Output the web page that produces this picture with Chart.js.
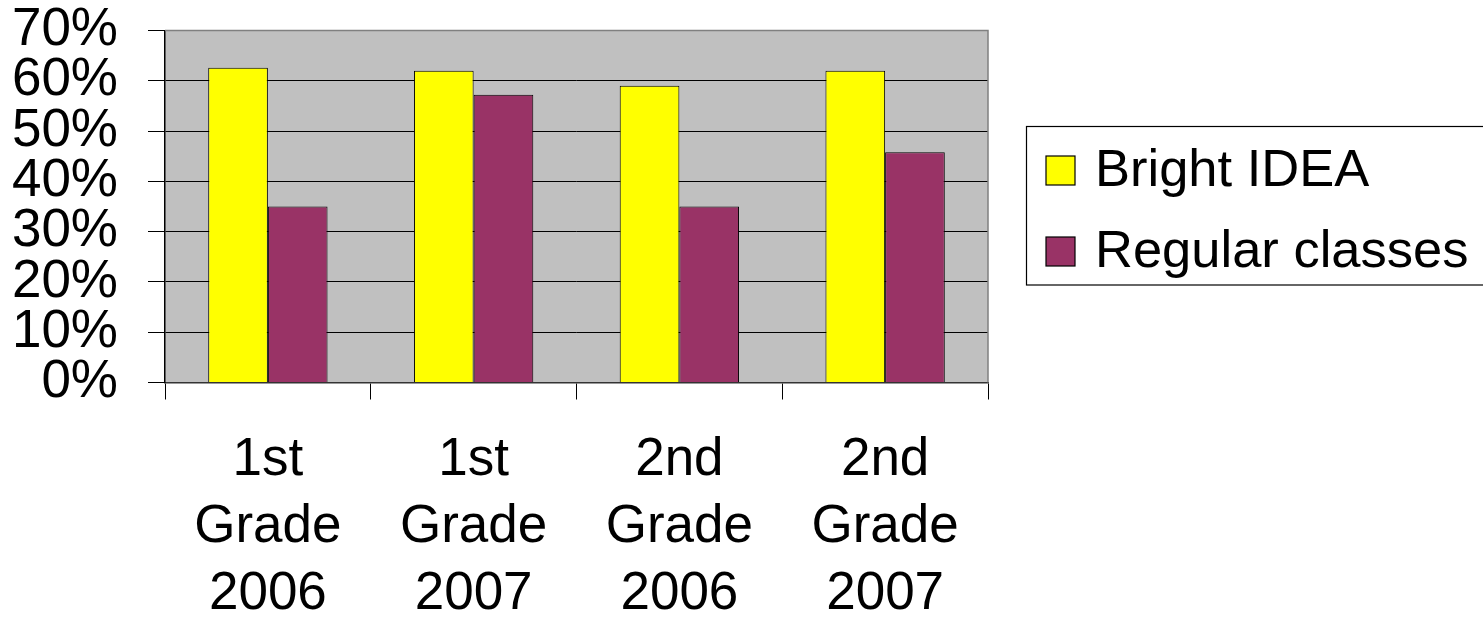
<!DOCTYPE html>
<html>
<head>
<meta charset="utf-8">
<script src="https://cdn.jsdelivr.net/npm/chart.js@4.4.1/dist/chart.umd.min.js"></script>
<style>
  html, body { margin: 0; padding: 0; background: #fff; }
  #wrap { width: 1483px; height: 617px; position: relative; }
</style>
</head>
<body>
<div id="wrap"><canvas id="c" width="1483" height="617"></canvas></div>
<script>
const categories = [["1st", "Grade", "2006"], ["1st", "Grade", "2007"], ["2nd", "Grade", "2006"], ["2nd", "Grade", "2007"]];
const brightIdea = [62.6, 62, 59, 62];
const regularClasses = [35, 57.2, 35, 45.8];
const seriesNames = ["Bright IDEA", "Regular classes"];
const seriesColors = ["#FFFF00", "#993366"];
const yTicks = [0, 10, 20, 30, 40, 50, 60, 70];

const FONT = "'Liberation Sans', Arial, sans-serif";

const plotBg = {
  id: 'plotBg',
  beforeDraw(chart) {
    const { ctx, chartArea: a } = chart;
    ctx.save();
    ctx.fillStyle = '#C0C0C0';
    ctx.fillRect(a.left, a.top, a.right - a.left, a.bottom - a.top);
    ctx.restore();
  },
  afterDatasetsDraw(chart) {
    const { ctx, chartArea: a } = chart;
    ctx.save();
    ctx.strokeStyle = '#808080';
    ctx.lineWidth = 1.5;
    ctx.beginPath();
    ctx.moveTo(a.left, a.top);
    ctx.lineTo(a.right, a.top);
    ctx.lineTo(a.right, a.bottom);
    ctx.stroke();
    ctx.restore();
  }
};

const boxLegend = {
  id: 'boxLegend',
  afterDraw(chart) {
    const { ctx } = chart;
    ctx.save();
    ctx.strokeStyle = '#000';
    ctx.lineWidth = 1.2;
    ctx.strokeRect(1026.5, 126.5, 470, 158.5);
    const rows = [170.5, 251.5];
    chart.data.datasets.forEach((ds, i) => {
      const cy = rows[i];
      ctx.fillStyle = ds.backgroundColor;
      ctx.fillRect(1046, cy - 14.5, 29, 29);
      ctx.strokeStyle = '#000';
      ctx.lineWidth = 1.2;
      ctx.strokeRect(1046, cy - 14.5, 29, 29);
      ctx.fillStyle = '#000';
      ctx.font = '52.5px ' + FONT;
      ctx.textBaseline = 'middle';
      ctx.textAlign = 'left';
      ctx.fillText(ds.label, 1095, cy + 1);
    });
    ctx.restore();
  }
};

new Chart(document.getElementById('c'), {
  type: 'bar',
  data: {
    labels: categories,
    datasets: [
      { label: seriesNames[0], data: brightIdea, backgroundColor: seriesColors[0], borderColor: '#000', borderWidth: 1 },
      { label: seriesNames[1], data: regularClasses, backgroundColor: seriesColors[1], borderColor: '#000', borderWidth: 1 }
    ]
  },
  options: {
    responsive: false,
    animation: false,
    devicePixelRatio: 1,
    layout: { padding: { top: 0, right: 495, left: 0, bottom: 0 } },
    datasets: { bar: { categoryPercentage: 0.58, barPercentage: 1 } },
    plugins: { legend: { display: false }, tooltip: { enabled: false } },
    scales: {
      x: {
        grid: { drawOnChartArea: false, drawTicks: true, tickLength: 17, color: '#000', offset: true },
        border: { display: true, color: '#333', width: 1.5 },
        ticks: { color: '#000', font: { family: FONT, size: 53, lineHeight: 1.264 }, padding: 27, maxRotation: 0, autoSkip: false },
        afterFit(scale) { scale.height = 234.5; scale.paddingLeft = 0; scale.paddingRight = 0; }
      },
      y: {
        min: 0, max: 70,
        afterBuildTicks(scale) { scale.ticks = yTicks.map(v => ({ value: v })); },
        grid: { color: ctx => (ctx.tick && ctx.tick.value === 70) ? '#808080' : '#000', tickColor: '#000', tickLength: 17, lineWidth: 1 },
        border: { display: true, color: '#000', width: 1.5 },
        ticks: { color: '#000', font: { family: FONT, size: 53, lineHeight: 1.15 }, padding: 30, autoSkip: false, callback: v => v + '%' },
        afterFit(scale) { scale.width = 165; scale.paddingTop = 30.5; scale.paddingBottom = 0; }
      }
    }
  },
  plugins: [plotBg, boxLegend]
});
</script>
</body>
</html>
